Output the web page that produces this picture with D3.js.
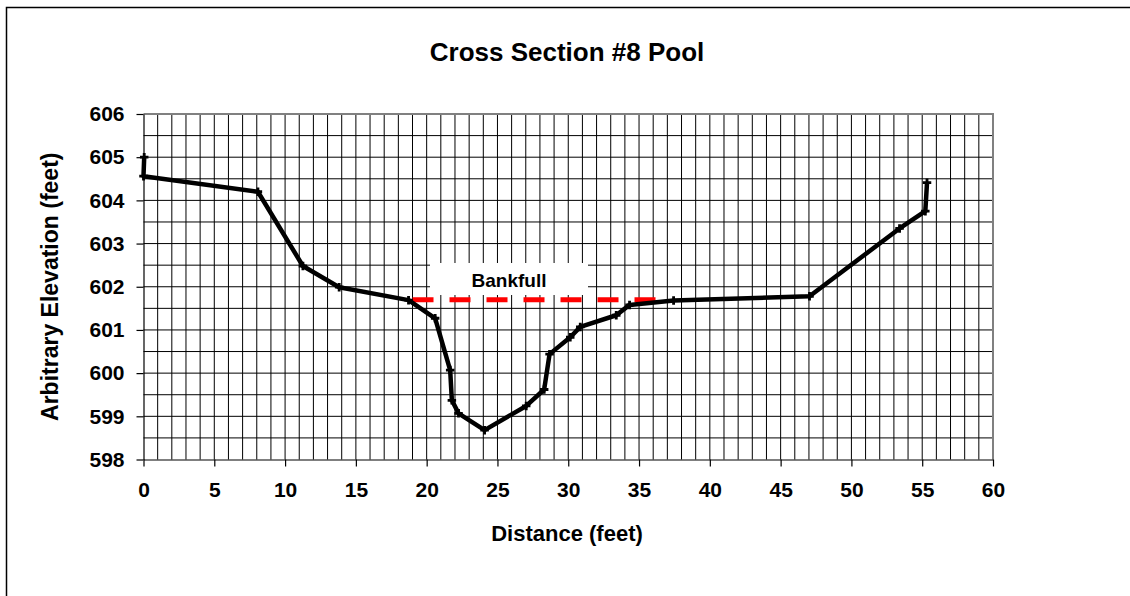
<!DOCTYPE html>
<meta charset='utf-8'>
<style>
  body { margin: 0; background: #fff; }
  text { font-family: Arial, 'Liberation Sans', sans-serif; font-weight: bold; fill: #000; }
  .grid line { stroke: #000; stroke-width: 1; }
  .axis path, .axis line { stroke: #000; stroke-width: 1.2; fill: none; }
</style>
<body>
<script src='https://d3js.org/d3.v7.min.js'></script>
<script>
  const distance = [0.05, 0, 8.08, 11.26, 13.82, 18.72, 20.6, 21.66, 21.78, 22.25, 24.09, 27.03, 28.3, 28.68, 30.14, 30.85, 33.39, 34.33, 37.44, 47.04, 53.4, 55.22, 55.34]
  const elevation = [605.0, 604.56, 604.2, 602.48, 601.99, 601.69, 601.27, 600.07, 599.37, 599.07, 598.68, 599.24, 599.62, 600.44, 600.83, 601.07, 601.34, 601.58, 601.68, 601.78, 603.35, 603.75, 604.41]

  const bankfullX = [19.0, 36.3]
  const bankfullElev = 601.7
  const bankfullLabel = 'Bankfull'

  const xTicks = [0, 5, 10, 15, 20, 25, 30, 35, 40, 45, 50, 55, 60]
  const yTicks = [598, 599, 600, 601, 602, 603, 604, 605, 606]

  const W = 1130, H = 596
  const plot = {left: 143.5, top: 114, right: 993, bottom: 459.5}

  const x = d3.scaleLinear().domain([0, 60]).range([plot.left, plot.right])
  const y = d3.scaleLinear().domain([598, 606]).range([plot.bottom, plot.top])

  const svg = d3.select('body').append('svg')
    .attr('width', W).attr('height', H)

  // outer chart frame (only top/left visible)
  svg.append('rect')
    .attr('x', 6.5).attr('y', 7.5)
    .attr('width', W + 20).attr('height', H + 20)
    .attr('fill', '#fff').attr('stroke', '#000').attr('stroke-width', 1.5)

  const grid = svg.append('g').attr('class', 'grid')
  grid.selectAll('.vx').data(d3.range(1, 60))
    .join('line')
    .attr('x1', d => x(d)).attr('x2', d => x(d))
    .attr('y1', plot.top).attr('y2', plot.bottom)
  grid.selectAll('.hy').data(d3.range(598.5, 606, 0.5))
    .join('line')
    .attr('x1', plot.left).attr('x2', plot.right)
    .attr('y1', d => y(d)).attr('y2', d => y(d))

  // plot area border, grey on top / right
  svg.append('path')
    .attr('d', `M${plot.left},${plot.top}H${plot.right}V${plot.bottom}`)
    .attr('fill', 'none').attr('stroke', '#808080').attr('stroke-width', 2)

  const xAxis = d3.axisBottom(x).tickValues(xTicks).tickSize(7).tickPadding(16).tickSizeOuter(0)
  const yAxis = d3.axisLeft(y).tickValues(yTicks).tickSize(7).tickPadding(12).tickSizeOuter(0)

  svg.append('g').attr('class', 'x axis')
    .attr('transform', `translate(0, ${plot.bottom})`)
    .call(xAxis)
    .selectAll('text').style('font-size', '21px')

  svg.append('g').attr('class', 'y axis')
    .attr('transform', `translate(${plot.left}, 0)`)
    .call(yAxis)
    .selectAll('text').style('font-size', '21px')

  svg.selectAll('.axis text').attr('fill', '#000')

  // bankfull label box and line
  svg.append('rect')
    .attr('x', 430).attr('y', 263).attr('width', 158).attr('height', 32)
    .attr('fill', '#fff')
  svg.append('text')
    .attr('x', 509).attr('y', 287)
    .attr('text-anchor', 'middle')
    .style('font-size', '19px')
    .text(bankfullLabel)

  svg.append('line')
    .attr('x1', x(bankfullX[0])).attr('x2', x(bankfullX[1]))
    .attr('y1', y(bankfullElev)).attr('y2', y(bankfullElev))
    .attr('stroke', '#ff0000').attr('stroke-width', 5)
    .attr('stroke-dasharray', '21 16')

  const pts = distance.map((d, i) => ({d: d, e: elevation[i]}))

  const line = d3.line().x(p => x(p.d)).y(p => y(p.e))
  svg.append('path')
    .attr('d', line(pts))
    .attr('fill', 'none').attr('stroke', '#000')
    .attr('stroke-width', 4.5).attr('stroke-linejoin', 'round')

  svg.selectAll('.mk').data(pts)
    .join('path')
    .attr('transform', p => `translate(${x(p.d)}, ${y(p.e)})`)
    .attr('d', d3.symbol(d3.symbolCross, 40))
    .attr('fill', '#000')

  svg.append('text')
    .attr('x', 567).attr('y', 61)
    .attr('text-anchor', 'middle')
    .style('font-size', '26px')
    .text('Cross Section #8 Pool')

  svg.append('text')
    .attr('x', 567).attr('y', 541)
    .attr('text-anchor', 'middle')
    .style('font-size', '22px')
    .text('Distance (feet)')

  svg.append('text')
    .attr('transform', `translate(58, ${(plot.top + plot.bottom) / 2}) rotate(-90)`)
    .attr('text-anchor', 'middle')
    .style('font-size', '23px')
    .text('Arbitrary Elevation (feet)')
</script>
</body>
